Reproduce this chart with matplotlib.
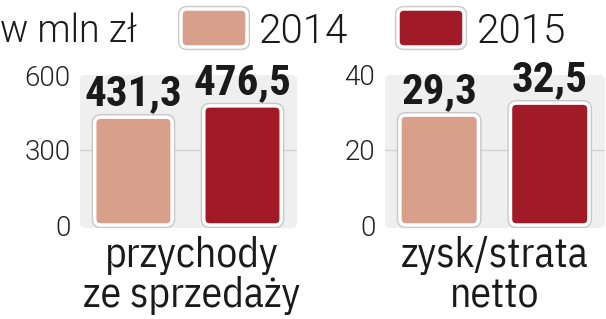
import matplotlib
matplotlib.use("Agg")
import matplotlib.pyplot as plt
import matplotlib.patheffects as pe
from matplotlib import font_manager
from matplotlib.patches import FancyBboxPatch

# dane
years = ["2014", "2015"]
revenue = [431.3, 476.5]
profit = [29.3, 32.5]
revenue_ticks = [0, 300, 600]
profit_ticks = [0, 20, 40]
titles = ["przychody\nze sprzedaży", "zysk/strata\nnetto"]
unit = "w mln zł"

colors = ["#d8a08b", "#a11a28"]

fonts = {(f.name, f.weight) for f in font_manager.fontManager.ttflist}
installed = {name for name, _ in fonts}


def pick(*names, weight=None):
    for n in names:
        if n in installed and (weight is None or (n, weight) in fonts):
            return n
    return "DejaVu Sans"


bold_narrow = pick("Roboto Condensed", "Barlow Condensed", "Liberation Sans Narrow")
narrow = pick("IBM Plex Sans Condensed", "Roboto Condensed", "Liberation Sans Narrow")
light = pick("IBM Plex Sans", "IBM Plex Sans Light", "Roboto", "Lato", weight=300)

W, H = 606, 319
fig = plt.figure(figsize=(W / 100, H / 100), dpi=100)


def px_axes(x0, y0, x1, y1):
    # prostokat w pikselach (od gory) -> wspolrzedne figury
    return fig.add_axes([x0 / W, 1 - y1 / H, (x1 - x0) / W, (y1 - y0) / H])


def draw_panel(ax, values, ticks, title, title_x):
    ax.set_xlim(-0.49, 1.5)
    ax.set_ylim(-ticks[-1] * 0.02, ticks[-1])
    ax.patch.set_visible(False)
    for s in ax.spines.values():
        s.set_visible(False)

    # szare tlo
    bg = FancyBboxPatch((0, 0), 1, 1, boxstyle="round,pad=0,rounding_size=0.025",
                        mutation_aspect=217 / 153, transform=ax.transAxes,
                        facecolor="#efefef", edgecolor="none", zorder=0)
    ax.add_patch(bg)
    ax.axhline(ticks[1], color="#d2d2d2", lw=1, zorder=1)

    ax.set_xticks([])
    ax.set_yticks(ticks)
    ax.set_yticklabels([str(t) for t in ticks], fontfamily=light, fontweight=300,
                       fontsize=20, color="#222222")
    ax.tick_params(axis="y", length=0, pad=7)

    # przeliczenie zaokraglen (piksele -> jednostki danych)
    bb = ax.get_window_extent()
    xpp = (ax.get_xlim()[1] - ax.get_xlim()[0]) / bb.width
    ypp = (ax.get_ylim()[1] - ax.get_ylim()[0]) / bb.height
    width = 0.71
    for i, v in enumerate(values):
        bar = FancyBboxPatch((i - width / 2, 0), width, v,
                             boxstyle="round,pad=0,rounding_size=%f" % (6 * xpp),
                             mutation_aspect=ypp / xpp,
                             facecolor=colors[i], edgecolor="white", lw=2.5, zorder=3)
        bar.set_path_effects([pe.Stroke(linewidth=4.5, foreground="#c8c8c8"), pe.Normal()])
        ax.add_patch(bar)
        ax.annotate(("%.1f" % v).replace(".", ","), (i, v), xytext=(0, 12),
                    textcoords="offset pixels", ha="center", va="baseline",
                    fontfamily=bold_narrow, fontweight=900, fontsize=31, color="#1a1a1a",
                    zorder=4)

    # baseline odnosi sie do ostatniej linii
    fig.text(title_x / W, 1 - 307 / H, title, ha="center", va="baseline",
             fontfamily=narrow, fontsize=30, color="#1a1a1a", linespacing=1.02)


ax1 = px_axes(80, 75, 297, 228)
ax2 = px_axes(385, 75, 605, 228)
draw_panel(ax1, revenue, revenue_ticks, titles[0], 192)
draw_panel(ax2, profit, profit_ticks, titles[1], 495)

# legenda
fig.text(0, 1 - 42 / H, unit, ha="left", va="baseline", fontfamily=light,
         fontweight=300, fontsize=27, color="#1a1a1a")
for i, (x0, tx) in enumerate([(181, 259), (398, 477)]):
    p = FancyBboxPatch((x0 / W, 1 - 47 / H), 66 / W, 38 / H,
                       boxstyle="round,pad=0,rounding_size=%f" % (6 / W),
                       mutation_aspect=W / H, transform=fig.transFigure,
                       facecolor=colors[i], edgecolor="white", lw=2.5)
    p.set_path_effects([pe.Stroke(linewidth=4.5, foreground="#c8c8c8"), pe.Normal()])
    fig.add_artist(p)
    fig.text(tx / W, 1 - 43 / H, years[i], ha="left", va="baseline", fontfamily=light,
             fontweight=300, fontsize=29, color="#1a1a1a")

fig.savefig("out.png", dpi=100, facecolor="white")
